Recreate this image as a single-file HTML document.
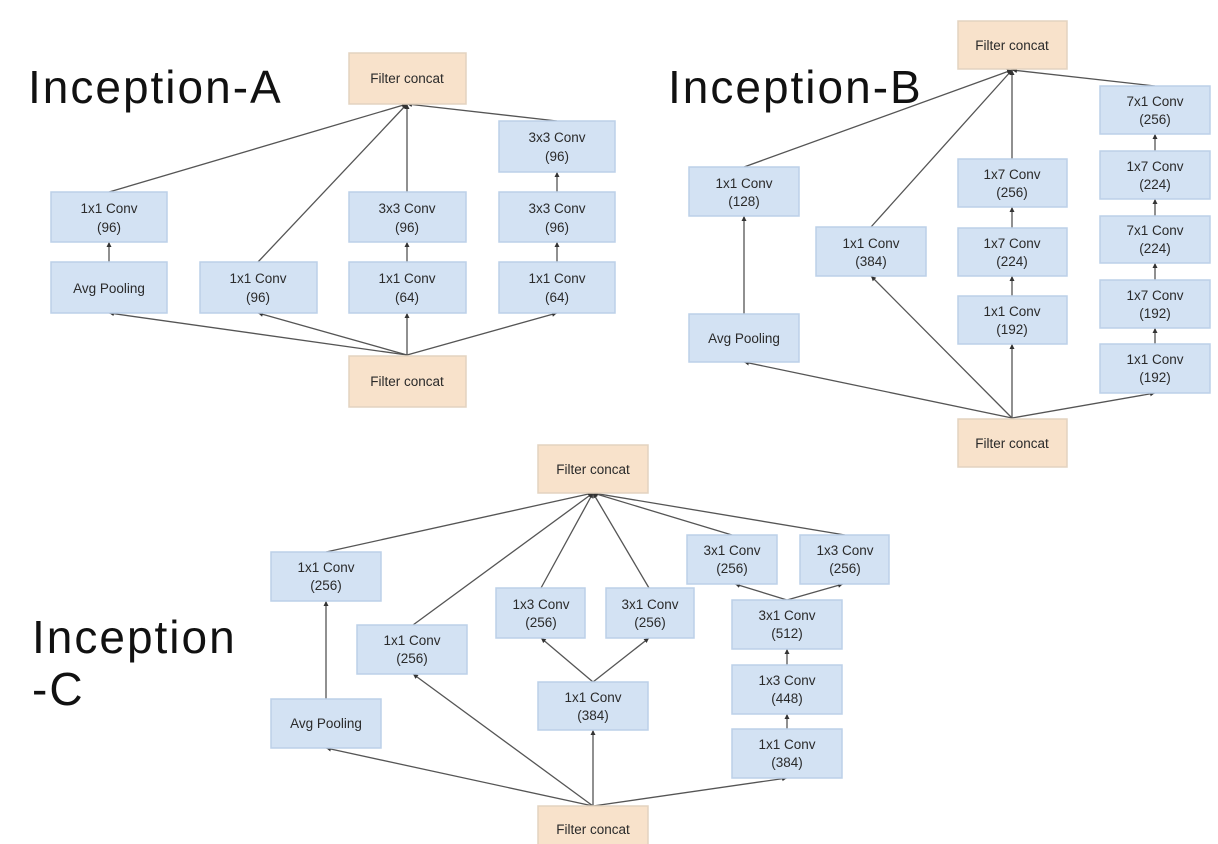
<!DOCTYPE html>
<html><head><meta charset="utf-8"><style>
html,body{margin:0;padding:0;background:#fff;width:1218px;height:844px;overflow:hidden}
svg text{font-family:"Liberation Sans",Arial,sans-serif}
.b{fill:#d3e2f3;stroke:#bcd0e8;stroke-width:1.5}
.f{fill:#f8e2cb;stroke:#e3d3c0;stroke-width:1.5}
.t{font-size:13.5px;fill:#2a2a2a;text-anchor:middle}
.l{stroke:#555;stroke-width:1.3;fill:none;marker-end:url(#a)}
.h{font-size:46px;fill:#111;letter-spacing:2px;font-family:"Liberation Sans",sans-serif}
</style></head><body>
<svg width="1218" height="844" viewBox="0 0 1218 844" xmlns="http://www.w3.org/2000/svg">
<defs><marker id="a" markerWidth="6" markerHeight="6" refX="5" refY="3" orient="auto" markerUnits="userSpaceOnUse"><path d="M0,0.5 L5,3 L0,5.5z" fill="#333"/></marker></defs>

<text class="h" x="28" y="103">Inception-A</text>
<text class="h" x="668" y="103">Inception-B</text>
<text class="h" x="32" y="653">Inception</text>
<text class="h" x="32" y="705">-C</text>

<!-- A edges -->
<g class="l">
<line x1="407" y1="355" x2="109" y2="313"/>
<line x1="407" y1="355" x2="258" y2="313"/>
<line x1="407" y1="355" x2="407" y2="313"/>
<line x1="407" y1="355" x2="557" y2="313"/>
<line x1="109" y1="262" x2="109" y2="242"/>
<line x1="407" y1="262" x2="407" y2="242"/>
<line x1="557" y1="262" x2="557" y2="242"/>
<line x1="557" y1="192" x2="557" y2="172"/>
<line x1="109" y1="192" x2="407" y2="104"/>
<line x1="258" y1="262" x2="407" y2="104"/>
<line x1="407" y1="192" x2="407" y2="104"/>
<line x1="557" y1="121" x2="407" y2="104"/>
</g>
<rect class="f" x="349" y="53" width="117" height="51"/><text class="t" x="407" y="83">Filter concat</text>
<rect class="b" x="51" y="192" width="116" height="50"/><text class="t" x="109" y="213">1x1 Conv</text><text class="t" x="109" y="232">(96)</text>
<rect class="b" x="51" y="262" width="116" height="51"/><text class="t" x="109" y="293">Avg Pooling</text>
<rect class="b" x="200" y="262" width="117" height="51"/><text class="t" x="258" y="283">1x1 Conv</text><text class="t" x="258" y="302">(96)</text>
<rect class="b" x="349" y="192" width="117" height="50"/><text class="t" x="407" y="213">3x3 Conv</text><text class="t" x="407" y="232">(96)</text>
<rect class="b" x="349" y="262" width="117" height="51"/><text class="t" x="407" y="283">1x1 Conv</text><text class="t" x="407" y="302">(64)</text>
<rect class="b" x="499" y="121" width="116" height="51"/><text class="t" x="557" y="142">3x3 Conv</text><text class="t" x="557" y="161">(96)</text>
<rect class="b" x="499" y="192" width="116" height="50"/><text class="t" x="557" y="213">3x3 Conv</text><text class="t" x="557" y="232">(96)</text>
<rect class="b" x="499" y="262" width="116" height="51"/><text class="t" x="557" y="283">1x1 Conv</text><text class="t" x="557" y="302">(64)</text>
<rect class="f" x="349" y="356" width="117" height="51"/><text class="t" x="407" y="386">Filter concat</text>

<!-- B edges -->
<g class="l">
<line x1="1012" y1="418" x2="744" y2="362"/>
<line x1="1012" y1="418" x2="871" y2="276"/>
<line x1="1012" y1="418" x2="1012" y2="344"/>
<line x1="1012" y1="418" x2="1155" y2="393"/>
<line x1="744" y1="314" x2="744" y2="216"/>
<line x1="1012" y1="296" x2="1012" y2="276"/>
<line x1="1012" y1="228" x2="1012" y2="207"/>
<line x1="1155" y1="344" x2="1155" y2="328"/>
<line x1="1155" y1="280" x2="1155" y2="263"/>
<line x1="1155" y1="216" x2="1155" y2="199"/>
<line x1="1155" y1="151" x2="1155" y2="134"/>
<line x1="744" y1="167" x2="1012" y2="70"/>
<line x1="871" y1="227" x2="1012" y2="70"/>
<line x1="1012" y1="159" x2="1012" y2="70"/>
<line x1="1155" y1="86" x2="1012" y2="70"/>
</g>
<rect class="f" x="958" y="21" width="109" height="48"/><text class="t" x="1012" y="50">Filter concat</text>
<rect class="b" x="689" y="167" width="110" height="49"/><text class="t" x="744" y="188">1x1 Conv</text><text class="t" x="744" y="206">(128)</text>
<rect class="b" x="689" y="314" width="110" height="48"/><text class="t" x="744" y="343">Avg Pooling</text>
<rect class="b" x="816" y="227" width="110" height="49"/><text class="t" x="871" y="248">1x1 Conv</text><text class="t" x="871" y="266">(384)</text>
<rect class="b" x="958" y="159" width="109" height="48"/><text class="t" x="1012" y="179">1x7 Conv</text><text class="t" x="1012" y="197">(256)</text>
<rect class="b" x="958" y="228" width="109" height="48"/><text class="t" x="1012" y="248">1x7 Conv</text><text class="t" x="1012" y="266">(224)</text>
<rect class="b" x="958" y="296" width="109" height="48"/><text class="t" x="1012" y="316">1x1 Conv</text><text class="t" x="1012" y="334">(192)</text>
<rect class="b" x="1100" y="86" width="110" height="48"/><text class="t" x="1155" y="106">7x1 Conv</text><text class="t" x="1155" y="124">(256)</text>
<rect class="b" x="1100" y="151" width="110" height="48"/><text class="t" x="1155" y="171">1x7 Conv</text><text class="t" x="1155" y="189">(224)</text>
<rect class="b" x="1100" y="216" width="110" height="47"/><text class="t" x="1155" y="235">7x1 Conv</text><text class="t" x="1155" y="253">(224)</text>
<rect class="b" x="1100" y="280" width="110" height="48"/><text class="t" x="1155" y="300">1x7 Conv</text><text class="t" x="1155" y="318">(192)</text>
<rect class="b" x="1100" y="344" width="110" height="49"/><text class="t" x="1155" y="364">1x1 Conv</text><text class="t" x="1155" y="382">(192)</text>
<rect class="f" x="958" y="419" width="109" height="48"/><text class="t" x="1012" y="448">Filter concat</text>

<!-- C edges -->
<g class="l">
<line x1="593" y1="806" x2="326" y2="748"/>
<line x1="593" y1="806" x2="413" y2="674"/>
<line x1="593" y1="806" x2="593" y2="730"/>
<line x1="593" y1="806" x2="787" y2="778"/>
<line x1="326" y1="699" x2="326" y2="601"/>
<line x1="593" y1="682" x2="541" y2="638"/>
<line x1="593" y1="682" x2="649" y2="638"/>
<line x1="787" y1="729" x2="787" y2="714"/>
<line x1="787" y1="665" x2="787" y2="649"/>
<line x1="787" y1="600" x2="735" y2="584"/>
<line x1="787" y1="600" x2="843" y2="584"/>
<line x1="326" y1="552" x2="593" y2="493"/>
<line x1="413" y1="625" x2="593" y2="493"/>
<line x1="541" y1="588" x2="593" y2="493"/>
<line x1="649" y1="588" x2="593" y2="493"/>
<line x1="732" y1="535" x2="593" y2="493"/>
<line x1="845" y1="535" x2="593" y2="493"/>
</g>
<rect class="f" x="538" y="445" width="110" height="48"/><text class="t" x="593" y="474">Filter concat</text>
<rect class="b" x="271" y="552" width="110" height="49"/><text class="t" x="326" y="572">1x1 Conv</text><text class="t" x="326" y="590">(256)</text>
<rect class="b" x="271" y="699" width="110" height="49"/><text class="t" x="326" y="728">Avg Pooling</text>
<rect class="b" x="357" y="625" width="110" height="49"/><text class="t" x="412" y="645">1x1 Conv</text><text class="t" x="412" y="663">(256)</text>
<rect class="b" x="496" y="588" width="89" height="50"/><text class="t" x="541" y="609">1x3 Conv</text><text class="t" x="541" y="627">(256)</text>
<rect class="b" x="606" y="588" width="88" height="50"/><text class="t" x="650" y="609">3x1 Conv</text><text class="t" x="650" y="627">(256)</text>
<rect class="b" x="538" y="682" width="110" height="48"/><text class="t" x="593" y="702">1x1 Conv</text><text class="t" x="593" y="720">(384)</text>
<rect class="b" x="687" y="535" width="90" height="49"/><text class="t" x="732" y="555">3x1 Conv</text><text class="t" x="732" y="573">(256)</text>
<rect class="b" x="800" y="535" width="89" height="49"/><text class="t" x="845" y="555">1x3 Conv</text><text class="t" x="845" y="573">(256)</text>
<rect class="b" x="732" y="600" width="110" height="49"/><text class="t" x="787" y="620">3x1 Conv</text><text class="t" x="787" y="638">(512)</text>
<rect class="b" x="732" y="665" width="110" height="49"/><text class="t" x="787" y="685">1x3 Conv</text><text class="t" x="787" y="703">(448)</text>
<rect class="b" x="732" y="729" width="110" height="49"/><text class="t" x="787" y="749">1x1 Conv</text><text class="t" x="787" y="767">(384)</text>
<rect class="f" x="538" y="806" width="110" height="48"/><text class="t" x="593" y="834">Filter concat</text>
</svg>
</body></html>
